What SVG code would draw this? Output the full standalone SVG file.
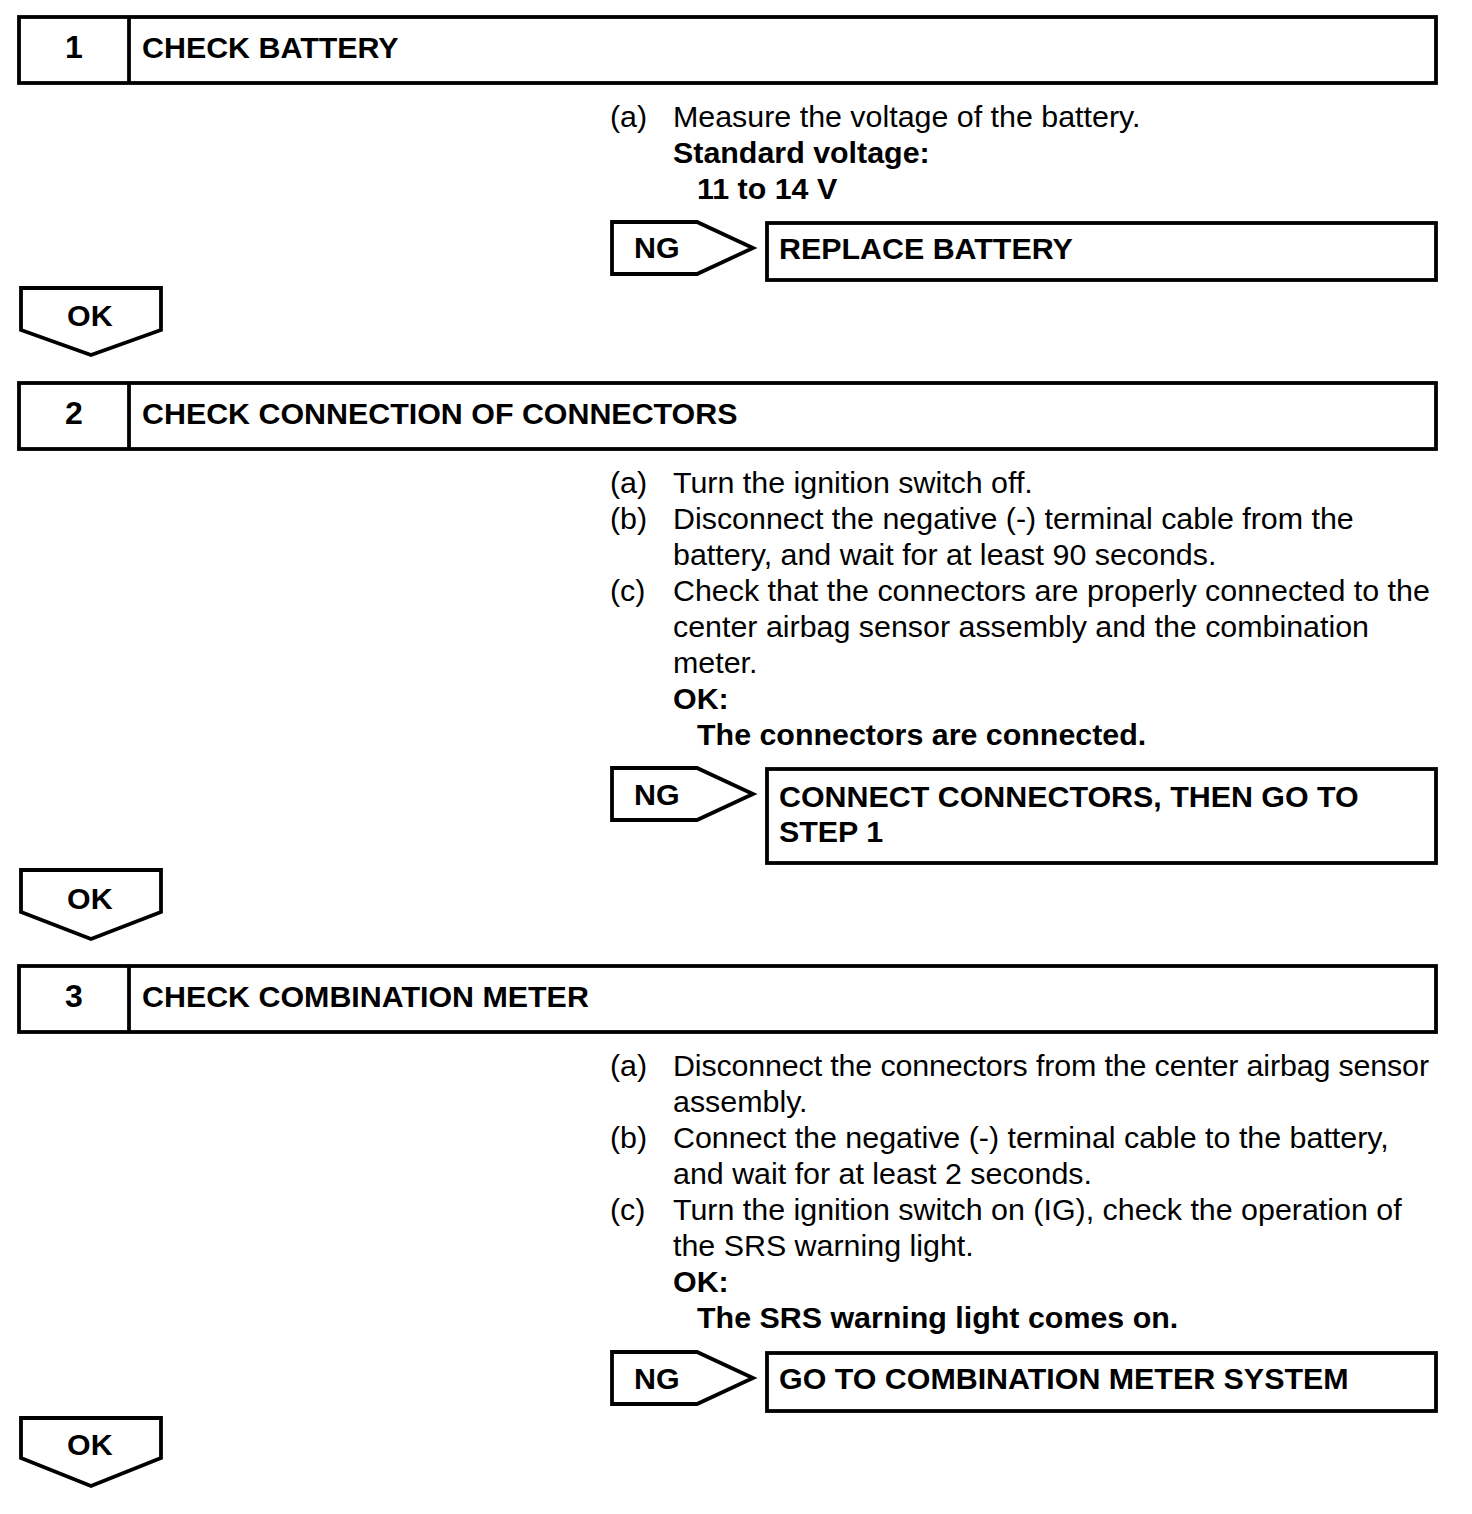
<svg xmlns="http://www.w3.org/2000/svg" width="1472" height="1514" viewBox="0 0 1472 1514">
<style>
.b{fill:#fff;stroke:#000;stroke-width:3.8}
.l{stroke:#000;stroke-width:3.8}
text{font-family:"Liberation Sans",Arial,sans-serif;font-size:30.4px;fill:#000}
.h{font-weight:bold}
.n{font-weight:bold;text-anchor:middle;font-size:32px}
</style>
<rect width="1472" height="1514" fill="#fff"/>
<g id="step1">
<rect class="b" x="19" y="17" width="1417" height="66"/>
<line class="l" x1="129" y1="17" x2="129" y2="83"/>
<text class="n" x="74" y="58">1</text>
<text class="h" x="142" y="58">CHECK BATTERY</text>
<text x="610" y="127">(a)</text>
<text x="673" y="127">Measure the voltage of the battery.</text>
<text class="h" x="673" y="163">Standard voltage:</text>
<text class="h" x="697" y="199">11 to 14 V</text>
</g>
<g id="ng1">
<polygon class="b" points="612,222 697,222 753,248 697,274 612,274"/>
<text class="h" x="634" y="258">NG</text>
</g>
<g id="result1">
<rect class="b" x="767" y="223" width="669" height="57"/>
<text class="h" x="779" y="259">REPLACE BATTERY</text>
</g>
<g id="ok1">
<polygon class="b" points="21,288 161,288 161,330 91,355 21,330"/>
<text class="h" x="67" y="326">OK</text>
</g>
<g id="step2">
<rect class="b" x="19" y="383" width="1417" height="66"/>
<line class="l" x1="129" y1="383" x2="129" y2="449"/>
<text class="n" x="74" y="424">2</text>
<text class="h" x="142" y="424">CHECK CONNECTION OF CONNECTORS</text>
<text x="610" y="493">(a)</text>
<text x="673" y="493">Turn the ignition switch off.</text>
<text x="610" y="529">(b)</text>
<text x="673" y="529">Disconnect the negative (-) terminal cable from the</text>
<text x="673" y="565">battery, and wait for at least 90 seconds.</text>
<text x="610" y="601">(c)</text>
<text x="673" y="601">Check that the connectors are properly connected to the</text>
<text x="673" y="637">center airbag sensor assembly and the combination</text>
<text x="673" y="673">meter.</text>
<text class="h" x="673" y="709">OK:</text>
<text class="h" x="697" y="745">The connectors are connected.</text>
</g>
<g id="ng2">
<polygon class="b" points="612,768 697,768 753,794 697,820 612,820"/>
<text class="h" x="634" y="805">NG</text>
</g>
<g id="result2">
<rect class="b" x="767" y="769" width="669" height="94"/>
<text class="h" x="779" y="807">CONNECT CONNECTORS, THEN GO TO</text>
<text class="h" x="779" y="842">STEP 1</text>
</g>
<g id="ok2">
<polygon class="b" points="21,870 161,870 161,912 91,939 21,912"/>
<text class="h" x="67" y="909">OK</text>
</g>
<g id="step3">
<rect class="b" x="19" y="966" width="1417" height="66"/>
<line class="l" x1="129" y1="966" x2="129" y2="1032"/>
<text class="n" x="74" y="1007">3</text>
<text class="h" x="142" y="1007">CHECK COMBINATION METER</text>
<text x="610" y="1076">(a)</text>
<text x="673" y="1076" textLength="756" lengthAdjust="spacing">Disconnect the connectors from the center airbag sensor</text>
<text x="673" y="1112">assembly.</text>
<text x="610" y="1148">(b)</text>
<text x="673" y="1148">Connect the negative (-) terminal cable to the battery,</text>
<text x="673" y="1184">and wait for at least 2 seconds.</text>
<text x="610" y="1220">(c)</text>
<text x="673" y="1220">Turn the ignition switch on (IG), check the operation of</text>
<text x="673" y="1256">the SRS warning light.</text>
<text class="h" x="673" y="1292">OK:</text>
<text class="h" x="697" y="1328">The SRS warning light comes on.</text>
</g>
<g id="ng3">
<polygon class="b" points="612,1352 697,1352 753,1378 697,1404 612,1404"/>
<text class="h" x="634" y="1389">NG</text>
</g>
<g id="result3">
<rect class="b" x="767" y="1353" width="669" height="58"/>
<text class="h" x="779" y="1389">GO TO COMBINATION METER SYSTEM</text>
</g>
<g id="ok3">
<polygon class="b" points="21,1418 161,1418 161,1458 91,1486 21,1458"/>
<text class="h" x="67" y="1455">OK</text>
</g>
<g id="connectors"></g>
</svg>
